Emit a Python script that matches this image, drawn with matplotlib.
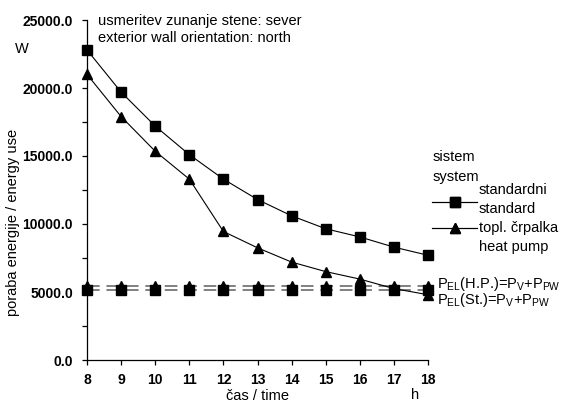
import matplotlib
matplotlib.use("Agg")
import matplotlib.pyplot as plt
from matplotlib.ticker import MultipleLocator, FormatStrFormatter

plt.rcParams['font.family'] = ['Liberation Sans', 'DejaVu Sans']
plt.rcParams['mathtext.fontset'] = 'custom'
plt.rcParams['mathtext.rm'] = 'Liberation Sans'
plt.rcParams['mathtext.it'] = 'Liberation Sans'

hours = [8, 9, 10, 11, 12, 13, 14, 15, 16, 17, 18]
standard = [22800, 19700, 17200, 15100, 13300, 11800, 10600, 9650, 9050, 8300, 7700]
heat_pump = [21000, 17900, 15350, 13300, 9450, 8250, 7200, 6500, 5950, 5250, 4800]
pel_hp = [5450] * len(hours)
pel_st = [5150] * len(hours)

W, H = 561, 405
def fx(px):
    return px / W
def fy(py):
    return 1 - py / H

fig = plt.figure(figsize=(W / 100, H / 100), dpi=100)
ax = fig.add_axes([fx(87), fy(360), (428 - 87) / W, (360 - 20) / H])

dash = (0, (6.5, 3.5))
ax.plot(hours, pel_hp, color='#808080', lw=1.4, ls=dash, marker='^', ms=7.5,
        mfc='black', mec='black', clip_on=False, zorder=3)
ax.plot(hours, pel_st, color='#808080', lw=1.4, ls=dash, marker='s', ms=6.8,
        mfc='black', mec='black', clip_on=False, zorder=3)
l1, = ax.plot(hours, standard, color='black', lw=0.8, marker='s', ms=6.8,
              clip_on=False, zorder=4)
l2, = ax.plot(hours, heat_pump, color='black', lw=0.8, marker='^', ms=7.5,
              clip_on=False, zorder=4)

ax.set_xlim(8, 18)
ax.set_ylim(0, 25000)
ax.set_xticks(hours)
ax.yaxis.set_major_locator(MultipleLocator(5000))
ax.yaxis.set_minor_locator(MultipleLocator(2500))
ax.yaxis.set_major_formatter(FormatStrFormatter('%.1f'))
for s in ['top', 'right']:
    ax.spines[s].set_visible(False)
for s in ['left', 'bottom']:
    ax.spines[s].set_linewidth(0.9)
ax.tick_params(axis='both', which='both', direction='out', length=3.6, width=0.9,
               labelsize=10)
ax.tick_params(axis='y', which='major', pad=6.5)
ax.tick_params(axis='x', which='major', pad=6)
for lab in ax.get_xticklabels() + ax.get_yticklabels():
    lab.set_fontweight('bold')

fs = 10.5
fig.text(fx(15), fy(49), 'W', fontsize=fs, ha='left', va='center')
fig.text(fx(98), fy(21), 'usmeritev zunanje stene: sever', fontsize=fs,
         ha='left', va='center')
fig.text(fx(98), fy(38), 'exterior wall orientation: north', fontsize=fs,
         ha='left', va='center')
fig.text(fx(13), fy(222), 'poraba energije / energy use', fontsize=fs,
         rotation=90, ha='center', va='center')
fig.text(fx(258), fy(396), 'čas / time', fontsize=fs, ha='center', va='center')
fig.text(fx(415), fy(395), 'h', fontsize=fs, ha='center', va='center')

# legend: title, handles, labels
fig.text(fx(433), fy(157), 'sistem', fontsize=fs, ha='left', va='center')
fig.text(fx(433), fy(177), 'system', fontsize=fs, ha='left', va='center')
for handle, yc in [(l1, 202), (l2, 228)]:
    lg = fig.legend([handle], [''], loc='center left',
                    bbox_to_anchor=(fx(432), fy(yc + 1)), frameon=False,
                    fontsize=fs, handlelength=45 / (fs * 100 / 72),
                    handletextpad=0, borderpad=0, borderaxespad=0)
    fig.add_artist(lg)
fig.text(fx(479), fy(190), 'standardni', fontsize=fs, ha='left', va='center')
fig.text(fx(479), fy(209), 'standard', fontsize=fs, ha='left', va='center')
fig.text(fx(479), fy(228), 'topl. črpalka', fontsize=fs, ha='left', va='center')
fig.text(fx(479), fy(247), 'heat pump', fontsize=fs, ha='left', va='center')

fig.text(fx(437), fy(284), r'P$_{\mathrm{EL}}$(H.P.)=P$_{\mathrm{V}}$+P$_{\mathrm{PW}}$',
         fontsize=fs, ha='left', va='center')
fig.text(fx(437), fy(300), r'P$_{\mathrm{EL}}$(St.)=P$_{\mathrm{V}}$+P$_{\mathrm{PW}}$',
         fontsize=fs, ha='left', va='center')

fig.savefig('out.png', dpi=100)
